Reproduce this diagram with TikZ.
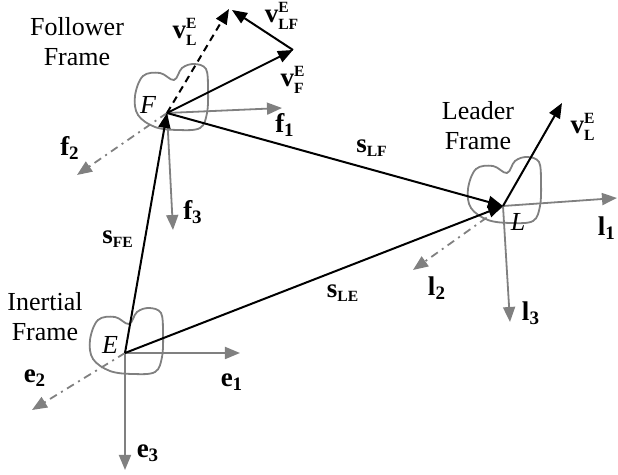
\documentclass[tikz,border=0pt]{standalone}
\usepackage{fontspec}
\setmainfont{Liberation Serif}
\usetikzlibrary{arrows.meta,calc}
\DeclareMathSizes{13.5}{13.5}{9.5}{7.8}
\definecolor{axisgray}{RGB}{128,128,128}
\newcommand{\tinybf}[1]{{\scriptscriptstyle\mathbf{#1}}}
\tikzset{
  vec/.style={-{Triangle[length=7.5pt,width=6pt]}, line width=1pt, draw=black},
  axis/.style={-{Triangle[length=7.5pt,width=6pt]}, line width=.9pt, draw=axisgray},
  axisdash/.style={axis, dash pattern=on 4pt off 2.5pt on 1pt off 2.5pt},
  lbl/.style={font=\fontsize{13.5}{16}\selectfont, inner sep=1pt},
  frametext/.style={align=center, font=\fontsize{13}{15}\selectfont, inner sep=0pt},
  origin/.style={font=\fontsize{13}{15}\selectfont\itshape, inner sep=0pt},
  blob/.pic={
    \draw[draw=axisgray, line width=.9pt] plot[smooth cycle, tension=.6] coordinates
      {(-35,-13) (-27,-33) (-10,-36) (4,-29) (12,-41) (24,-45) (36,-40) (38,-20)
       (37,4) (30,19) (8,21) (-15,18) (-32,6)};
  }
}
\begin{document}
\begin{tikzpicture}[x=.5pt,y=-.5pt]
  \useasboundingbox (0,0) rectangle (618,475);
  % Frame origins and axis tips.
  \coordinate (E) at (125,353);
  \coordinate (F) at (167,113);
  \coordinate (L) at (503,206);
  \coordinate (e1) at (240,353);
  \coordinate (e2) at (32,410);
  \coordinate (e3) at (125,470);
  \coordinate (f1) at (282,108);
  \coordinate (f2) at (77,175);
  \coordinate (f3) at (173,230);
  \coordinate (l1) at (617,198);
  \coordinate (l2) at (413,270);
  \coordinate (l3) at (510,322);
  \coordinate (vF) at (293,50);
  \coordinate (vLF) at (232,10);
  \coordinate (vLd) at (229,9);
  \coordinate (vL) at (562,103);

  % Bodies.
  \pic at (E) {blob};
  \pic at ($(F)+(3,-4)$) {blob};
  \pic at ($(L)+(0,-4)$) {blob};

  % Frame axes.
  \draw[axis] (E) -- (e1);
  \draw[axis] (E) -- (e3);
  \draw[axisdash] (E) -- (e2);
  \draw[axis] (F) -- (f1);
  \draw[axis] (F) -- (f3);
  \draw[axisdash] (F) -- (f2);
  \draw[axis] (L) -- (l1);
  \draw[axis] (L) -- (l3);
  \draw[axisdash] (L) -- (l2);

  % Position and velocity vectors.
  \draw[vec] (E) -- (F);
  \draw[vec] (E) -- (L);
  \draw[vec] (F) -- (L);
  \draw[vec] (F) -- (vF);
  \draw[vec] (vF) -- (vLF);
  \draw[vec, dash pattern=on 3.5pt off 2.5pt] (F) -- (vLd);
  \draw[vec] (L) -- (vL);

  % Texts.
  \node[frametext] (follower) at (77,42) {Follower\\Frame};
  \node[frametext] (inertial) at (45,317) {Inertial\\Frame};
  \node[frametext] (leader) at (478,126) {Leader\\Frame};
  \node[origin] (Etxt) at (110,345) {E};
  \node[origin] (Ftxt) at (148,105) {F};
  \node[origin] (Ltxt) at (518,222) {L};
  \node[lbl] (e1txt) at (232,382) {$\mathbf{e}_{\mathbf{1}}$};
  \node[lbl] (e2txt) at (35,378) {$\mathbf{e}_{\mathbf{2}}$};
  \node[lbl] (e3txt) at (148,453) {$\mathbf{e}_{\mathbf{3}}$};
  \node[lbl] (f1txt) at (285,125) {$\mathbf{f}_{\mathbf{1}}$};
  \node[lbl] (f2txt) at (70,148) {$\mathbf{f}_{\mathbf{2}}$};
  \node[lbl] (f3txt) at (193,212) {$\mathbf{f}_{\mathbf{3}}$};
  \node[lbl] (l1txt) at (607,228) {$\mathbf{l}_{\mathbf{1}}$};
  \node[lbl] (l2txt) at (437,288) {$\mathbf{l}_{\mathbf{2}}$};
  \node[lbl] (l3txt) at (531,313) {$\mathbf{l}_{\mathbf{3}}$};
  \node[lbl] (sFEtxt) at (118,239) {$\mathbf{s}_{\tinybf{FE}}$};
  \node[lbl] (sLFtxt) at (372,148) {$\mathbf{s}_{\tinybf{LF}}$};
  \node[lbl] (sLEtxt) at (343,293) {$\mathbf{s}_{\tinybf{LE}}$};
  \node[lbl] (vLtxtF) at (185,32) {$\mathbf{v}^{\tinybf{E}}_{\tinybf{L}}$};
  \node[lbl] (vLFtxt) at (282,16) {$\mathbf{v}^{\tinybf{E}}_{\tinybf{LF}}$};
  \node[lbl] (vFtxt) at (293,80) {$\mathbf{v}^{\tinybf{E}}_{\tinybf{F}}$};
  \node[lbl] (vLtxt) at (583,127) {$\mathbf{v}^{\tinybf{E}}_{\tinybf{L}}$};
\end{tikzpicture}
\end{document}
